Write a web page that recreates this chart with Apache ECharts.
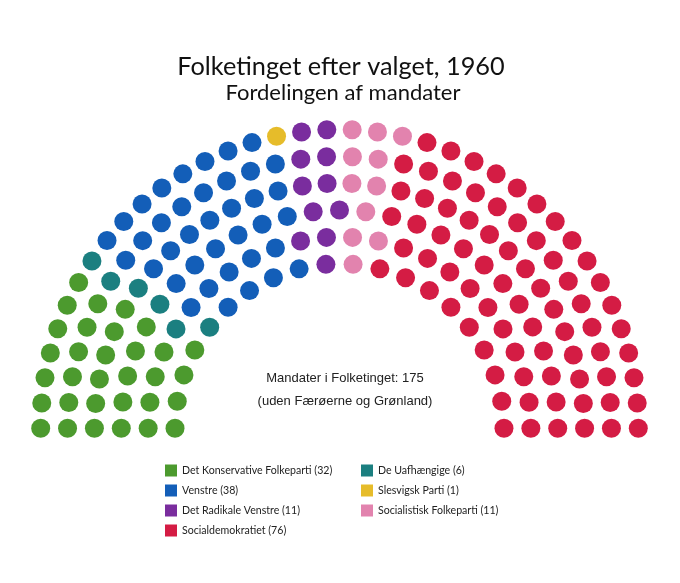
<!DOCTYPE html>
<html><head><meta charset="utf-8">
<script src="https://cdn.jsdelivr.net/npm/echarts@6/dist/echarts.min.js"></script>
<style>html,body{margin:0;padding:0;background:#fff}#c{width:680px;height:583px}</style>
</head><body><div id="c"></div>
<script>
// ---- data ----
const parties = ['Det Konservative Folkeparti', 'De Uafhængige', 'Venstre', 'Slesvigsk Parti',
                 'Det Radikale Venstre', 'Socialistisk Folkeparti', 'Socialdemokratiet'];
const seats = [32, 6, 38, 1, 11, 11, 76];
const colors = ['#4C9A2E', '#1B7F80', '#135EB8', '#E6BC2A', '#7A2D9E', '#E283AE', '#D41C44'];
const rowSeats = [20, 24, 27, 32, 34, 38];          // seats per row, inner -> outer
const legendLeftCol = ['Det Konservative Folkeparti', 'Venstre', 'Det Radikale Venstre', 'Socialdemokratiet'];
const legendRightCol = ['De Uafhængige', 'Slesvigsk Parti', 'Socialistisk Folkeparti'];
const totalText = 'Mandater i Folketinget: 175';
const noteText = '(uden Færøerne og Grønland)';

// ---- layout (hemicycle) ----
const innerRatio = 0.5505;
const nRows = rowSeats.length;
const allSeats = [];
rowSeats.forEach((n, i) => {
  const r = innerRatio + i * (1 - innerRatio) / (nRows - 1);
  for (let k = 0; k < n; k++) {
    const ang = 180 - k * 180 / (n - 1);
    allSeats.push({ r: r, a: ang, row: i });
  }
});
allSeats.sort((p, q) => (q.a - p.a) || (p.row - q.row));

const seriesData = parties.map(() => []);
let idx = 0;
seats.forEach((cnt, p) => {
  for (let s = 0; s < cnt; s++) {
    const st = allSeats[idx++];
    seriesData[p].push([st.r, st.a]);
  }
});

const countOf = {};
parties.forEach((p, i) => countOf[p] = seats[i]);

const chart = echarts.init(document.getElementById('c'), null, { renderer: 'canvas' });
const legendCommon = {
  orient: 'vertical', icon: 'rect', itemWidth: 12, itemHeight: 12, itemGap: 8, padding: 0,
  textStyle: { fontFamily: 'Lato', fontSize: 10.6, color: '#222', lineHeight: 12 },
  formatter: name => name + ' (' + countOf[name] + ')',
  selectedMode: false
};
chart.setOption({
  animation: false,
  backgroundColor: '#ffffff',
  title: [
    { text: 'Folketinget efter valget, 1960', left: 336, top: 49, textAlign: 'center',
      textStyle: { fontFamily: 'Lato', fontWeight: 'normal', fontSize: 25.3, color: '#111' } },
    { text: 'Fordelingen af mandater', left: 338, top: 77, textAlign: 'center',
      textStyle: { fontFamily: 'Lato', fontWeight: 'normal', fontSize: 22, color: '#111' } },
    { text: totalText, left: 340, top: 366.5, textAlign: 'center',
      textStyle: { fontFamily: 'Liberation Sans', fontWeight: 'normal', fontSize: 13, color: '#222' } },
    { text: noteText, left: 340, top: 389.5, textAlign: 'center',
      textStyle: { fontFamily: 'Liberation Sans', fontWeight: 'normal', fontSize: 13, color: '#222' } }
  ],
  legend: [
    Object.assign({ left: 165, top: 464.5, data: legendLeftCol }, legendCommon),
    Object.assign({ left: 361, top: 464.5, data: legendRightCol }, legendCommon)
  ],
  polar: { center: [339.5, 428.3], radius: 298.8 },
  radiusAxis: { type: 'value', min: 0, max: 1, show: false,
    axisLine: { show: false }, axisTick: { show: false }, axisLabel: { show: false }, splitLine: { show: false } },
  angleAxis: { type: 'value', min: 0, max: 360, startAngle: 0, clockwise: false, show: false,
    axisLine: { show: false }, axisTick: { show: false }, axisLabel: { show: false }, splitLine: { show: false } },
  series: parties.map((p, i) => ({
    name: p, type: 'scatter', coordinateSystem: 'polar', symbol: 'circle', symbolSize: 19,
    itemStyle: { color: colors[i], opacity: 1 }, data: seriesData[i], silent: true
  }))
});
</script></body></html>
